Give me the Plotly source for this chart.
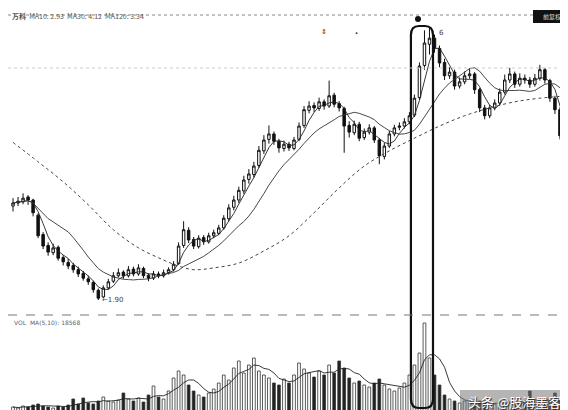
import plotly.graph_objects as go
import pandas as pd

# ---- data ----
opens = [3.45,3.50,3.52,3.60,3.55,3.30,2.98,2.80,2.68,2.77,2.60,2.52,2.47,2.40,2.34,2.25,2.19,2.06,1.95,2.10,
         2.21,2.30,2.36,2.30,2.41,2.33,2.42,2.31,2.26,2.33,2.30,2.35,2.40,2.50,2.80,3.05,2.90,2.78,2.93,2.86,
         2.96,3.00,3.09,3.24,3.43,3.55,3.70,3.89,3.97,4.12,4.36,4.55,4.64,4.52,4.40,4.47,4.40,4.55,4.78,5.03,
         5.11,5.06,5.17,5.10,5.28,5.14,5.06,4.78,4.66,4.80,4.58,4.67,4.74,4.54,4.27,4.44,4.64,4.75,4.77,4.84,
         4.95,5.24,5.77,6.12,6.22,6.05,5.82,5.60,5.66,5.43,5.50,5.60,5.63,5.37,5.07,4.94,5.07,5.15,5.33,5.53,
         5.63,5.46,5.56,5.53,5.46,5.56,5.70,5.52,5.23,5.04,4.62,4.41]
closes = [3.50,3.53,3.58,3.55,3.34,2.96,2.79,2.69,2.76,2.59,2.53,2.46,2.40,2.33,2.26,2.20,2.07,1.93,2.10,2.20,
          2.30,2.35,2.30,2.40,2.33,2.43,2.30,2.26,2.33,2.30,2.35,2.40,2.49,2.79,3.06,2.89,2.79,2.92,2.86,2.96,
          3.01,3.09,3.25,3.42,3.55,3.71,3.88,3.98,4.11,4.37,4.54,4.64,4.52,4.41,4.47,4.41,4.54,4.77,5.04,5.10,
          5.07,5.17,5.10,5.27,5.13,5.07,4.77,4.67,4.80,4.57,4.67,4.74,4.54,4.28,4.44,4.64,4.74,4.77,4.84,4.94,
          5.23,5.76,6.14,6.22,6.06,5.81,5.60,5.66,5.43,5.50,5.60,5.63,5.37,5.07,4.94,5.07,5.15,5.33,5.53,5.63,
          5.46,5.56,5.53,5.46,5.56,5.70,5.53,5.23,5.04,4.61,4.41,4.24]
highs = [3.58,3.60,3.66,3.63,3.57,3.33,3.02,2.85,2.83,2.80,2.64,2.58,2.51,2.45,2.38,2.30,2.22,2.09,2.14,2.25,
         2.36,2.42,2.39,2.46,2.45,2.49,2.45,2.34,2.38,2.37,2.40,2.44,2.54,2.85,3.20,3.10,2.94,2.97,2.97,3.01,
         3.06,3.14,3.30,3.48,3.62,3.77,3.95,4.06,4.18,4.44,4.62,4.78,4.68,4.56,4.53,4.51,4.59,4.83,5.10,5.18,
         5.16,5.24,5.21,5.52,5.32,5.18,5.09,4.85,4.86,4.84,4.73,4.80,4.77,4.57,4.49,4.69,4.79,4.83,4.90,5.00,
         5.29,5.82,6.35,6.39,6.28,6.10,5.88,5.74,5.70,5.57,5.67,5.72,5.66,5.40,5.12,5.12,5.21,5.39,5.62,5.73,
         5.67,5.64,5.62,5.58,5.63,5.78,5.73,5.55,5.27,5.08,4.66,4.47]
lows = [3.36,3.45,3.48,3.47,3.28,2.92,2.74,2.63,2.64,2.55,2.47,2.41,2.35,2.28,2.22,2.15,2.02,1.90,1.93,2.07,
        2.18,2.27,2.25,2.27,2.29,2.30,2.26,2.21,2.23,2.26,2.27,2.32,2.37,2.48,2.76,2.84,2.74,2.75,2.81,2.83,
        2.92,2.97,3.06,3.20,3.38,3.50,3.65,3.82,3.92,4.08,4.31,4.48,4.46,4.33,4.35,4.36,4.37,4.52,4.74,4.98,
        5.00,5.02,5.04,5.07,5.08,5.01,4.33,4.58,4.62,4.52,4.54,4.63,4.49,4.14,4.22,4.41,4.60,4.70,4.73,4.80,
        4.92,5.20,5.70,5.95,5.98,5.74,5.53,5.55,5.37,5.39,5.46,5.55,5.30,5.00,4.88,4.90,5.03,5.11,5.29,5.48,
        5.40,5.42,5.47,5.40,5.42,5.52,5.47,5.17,4.97,4.55,4.33,4.17]
volumes = [6,5,7,6,8,9,7,6,5,7,6,8,14,9,15,10,9,12,16,12,
           11,13,20,14,12,15,11,18,27,16,14,22,35,42,38,28,22,18,16,20,
           24,30,38,33,45,52,40,48,55,42,38,35,30,28,34,30,38,50,44,40,
           36,42,38,48,40,52,45,35,30,32,28,26,30,34,28,24,22,25,30,38,
           48,60,90,55,38,28,18,14,12,10,12,11,9,12,10,8,9,12,10,11,
           9,10,12,22,11,10,9,13,20,12,10,15]
volumes = [v * 1000 for v in volumes]

# long moving average (MA120), at these bar indices
ma_long_idx = [0, 5, 10, 15, 20, 25, 30, 33, 36, 40, 45, 50, 55, 60, 65, 70, 75, 80, 85, 90, 95, 100, 105, 111]
ma_long_val = [4.50, 4.18, 3.85, 3.47, 3.06, 2.76, 2.56, 2.46, 2.40, 2.43, 2.51, 2.71, 2.96, 3.34, 3.75, 4.11,
               4.36, 4.57, 4.77, 4.94, 5.07, 5.17, 5.23, 5.27]

title_text = "<b>万科</b>  MA10: 2.93  MA30: 4.12  MA120: 3.34"
vol_text = "VOL  MA(5,10): 18568"

idx = list(range(len(closes)))
cs = pd.Series(closes)
ma_a = cs.rolling(4, min_periods=1).mean()
ma_b = cs.rolling(12, min_periods=1).mean()
vs = pd.Series(volumes)
vma = vs.rolling(5, min_periods=1).mean()

bar_colors = ["#ffffff" if c >= o else "#222222" for o, c in zip(opens, closes)]

fig = go.Figure()
fig.add_trace(go.Candlestick(
    x=idx, open=opens, high=highs, low=lows, close=closes,
    increasing=dict(line=dict(color="#111111", width=1), fillcolor="#ffffff"),
    decreasing=dict(line=dict(color="#111111", width=1), fillcolor="#111111"),
    whiskerwidth=0, showlegend=False, yaxis="y"))
fig.add_trace(go.Scatter(x=idx, y=ma_a, mode="lines", line=dict(color="#222222", width=0.9),
                         showlegend=False, yaxis="y"))
fig.add_trace(go.Scatter(x=idx, y=ma_b, mode="lines", line=dict(color="#333333", width=0.9),
                         showlegend=False, yaxis="y"))
fig.add_trace(go.Scatter(x=ma_long_idx, y=ma_long_val, mode="lines", line_shape="spline",
                         line=dict(color="#444444", width=1, dash="dot"), showlegend=False, yaxis="y"))
fig.add_trace(go.Bar(x=idx, y=volumes, marker=dict(color=bar_colors, line=dict(color="#333333", width=0.8)),
                     width=0.55, showlegend=False, yaxis="y2"))
fig.add_trace(go.Scatter(x=idx, y=vma, mode="lines", line=dict(color="#222222", width=0.9),
                         showlegend=False, yaxis="y2"))

# rounded box around the peak
x0, x1 = 79.3, 83.7
yb, yt = 1 - 400 / 410, 1 - 18 / 410
rx, ry = 1.6, 0.022
path = (f"M {x0},{yb+ry} L {x0},{yt-ry} Q {x0},{yt} {x0+rx},{yt} L {x1-rx},{yt} "
        f"Q {x1},{yt} {x1},{yt-ry} L {x1},{yb+ry} Q {x1},{yb} {x1-rx},{yb} "
        f"L {x0+rx},{yb} Q {x0},{yb} {x0},{yb+ry} Z")

shapes = [
    dict(type="rect", xref="paper", yref="paper", x0=452 / 568, x1=566 / 568, y0=1 - 406 / 410, y1=1 - 382 / 410,
         fillcolor="rgba(120,120,120,0.55)", line=dict(width=0), layer="above"),
    dict(type="path", path=path, xref="x", yref="paper", line=dict(color="#111111", width=2.2)),
    dict(type="line", xref="paper", yref="paper", x0=0, x1=1, y0=1 - 7 / 410, y1=1 - 7 / 410,
         line=dict(color="#888888", width=1, dash="dot")),
    dict(type="line", xref="paper", yref="paper", x0=0, x1=1, y0=1 - 60 / 410, y1=1 - 60 / 410,
         line=dict(color="#cccccc", width=1, dash="dot")),
    dict(type="line", xref="paper", yref="paper", x0=0, x1=1, y0=1 - 307 / 410, y1=1 - 307 / 410,
         line=dict(color="#777777", width=1, dash="dash")),
    dict(type="rect", xref="paper", yref="paper", x0=525 / 568, x1=563 / 568, y0=1 - 15 / 410, y1=1 - 2 / 410,
         fillcolor="#111111", line=dict(width=0)),
    dict(type="circle", xref="paper", yref="paper", x0=407 / 568, x1=413 / 568, y0=1 - 14 / 410, y1=1 - 8 / 410,
         fillcolor="#111111", line=dict(width=0)),
]

annotations = [
    dict(text=title_text, xref="paper", yref="paper", x=2 / 568, y=1 - 1 / 410, xanchor="left", yanchor="top",
         showarrow=False, font=dict(size=7, color="#555555", family="Noto Sans CJK SC")),
    dict(text=vol_text, xref="paper", yref="paper", x=4 / 568, y=1 - 309 / 410, xanchor="left", yanchor="top",
         showarrow=False, font=dict(size=6, color="#666666", family="DejaVu Sans")),
    dict(text="前复权", xref="paper", yref="paper", x=544 / 568, y=1 - 8.5 / 410, xanchor="center", yanchor="middle",
         showarrow=False, font=dict(size=6, color="#dddddd", family="Noto Sans CJK SC")),
    dict(text="←1.90", x=17, y=1.90, xref="x", yref="y", xanchor="left", yanchor="middle", xshift=2,
         showarrow=False, font=dict(size=7, color="#444444", family="DejaVu Sans")),
    dict(text="6", x=84.5, y=6.30, xref="x", yref="y", xanchor="left", yanchor="middle",
         showarrow=False, font=dict(size=7, color="#444444", family="DejaVu Sans")),
    dict(text="⇕", xref="paper", yref="paper", x=316 / 568, y=1 - 17 / 410, showarrow=False,
         font=dict(size=7, color="#333333")),
    dict(text="•", xref="paper", yref="paper", x=348 / 568, y=1 - 17 / 410, showarrow=False,
         font=dict(size=8, color="#333333")),
    dict(text="头条 @股海墨客", xref="paper", yref="paper", x=506 / 568, y=1 - 393 / 410, xanchor="center",
         yanchor="middle", showarrow=False,
         font=dict(size=13, color="#ffffff", family="Noto Sans CJK SC", shadow="1px 1px 1px #222222")),
]

fig.update_layout(
    width=568, height=410, margin=dict(l=0, r=0, t=0, b=0),
    paper_bgcolor="#ffffff", plot_bgcolor="#ffffff",
    xaxis=dict(range=[-1.0, 112.2], visible=False, rangeslider=dict(visible=False), fixedrange=True),
    yaxis=dict(domain=[1 - 300 / 410, 1 - 10 / 410], range=[1.768, 6.553], visible=False),
    yaxis2=dict(domain=[1 - 405 / 410, 1 - 312 / 410], range=[0, 93000], visible=False),
    bargap=0.3, shapes=shapes, annotations=annotations, showlegend=False,
)

fig.write_html("out.html")
